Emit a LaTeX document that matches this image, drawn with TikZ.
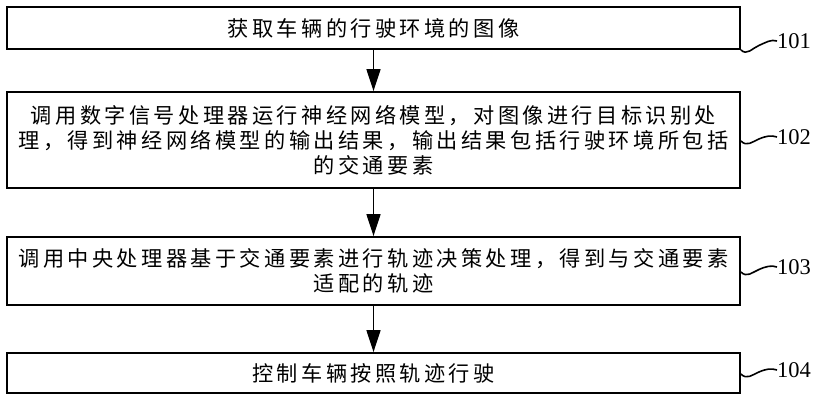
\documentclass[tikz,border=0pt]{standalone}
\usepackage{fontspec}
\setmainfont{Liberation Serif}
\newfontfamily\cjk[LetterSpace=16]{Noto Sans CJK SC}
\usetikzlibrary{arrows.meta,calc}
\tikzset{
  stepbox/.style={draw, line width=1.8pt, minimum width=733pt, inner sep=0pt,
    align=center, font=\cjk\fontsize{21.2}{25}\selectfont},
  arr/.style={line width=1.5pt, -{Triangle[length=22pt,width=14pt]}},
  wave/.style={line width=1.6pt},
  lab/.style={anchor=west, inner sep=0pt, font=\fontsize{22.5}{24}\selectfont}
}
\begin{document}
\begin{tikzpicture}[x=1pt,y=-1pt]
\useasboundingbox (0,0) rectangle (820,402);
\node[stepbox, minimum height=42pt] (b1) at (373.5,28) {获取车辆的行驶环境的图像};
\node[stepbox, minimum height=96pt] (b2) at (373.5,140)
  {调用数字信号处理器运行神经网络模型，对图像进行目标识别处\\
   理，得到神经网络模型的输出结果，输出结果包括行驶环境所包括\\
   的交通要素};
\node[stepbox, minimum height=68pt] (b3) at (373.5,271)
  {调用中央处理器基于交通要素进行轨迹决策处理，得到与交通要素\\
   适配的轨迹};
\node[stepbox, minimum height=40pt] (b4) at (373.5,373) {控制车辆按照轨迹行驶};

\draw[arr] (b1) -- (b2);
\draw[arr] (b2) -- (b3);
\draw[arr] (b3) -- (b4);

\node[lab] (l1) at (777,41) {101};
\node[lab] (l2) at (777,137) {102};
\node[lab] (l3) at (777,267) {103};
\node[lab] (l4) at (777,370) {104};

\coordinate (w1) at (b1.south east);
\coordinate (w2) at ($(b2.east)+(0,1)$);
\coordinate (w3) at ($(b3.east)+(0,1)$);
\coordinate (w4) at ($(b4.east)+(0,1)$);
\foreach \i in {1,2,3,4}{
  \draw[wave] (w\i) .. controls +(6,6) and +(-7,3) .. ($(w\i)!.5!(l\i.west)$)
     .. controls +(7,-3) and +(-6,-2) .. (l\i.west);
}
\end{tikzpicture}
\end{document}
